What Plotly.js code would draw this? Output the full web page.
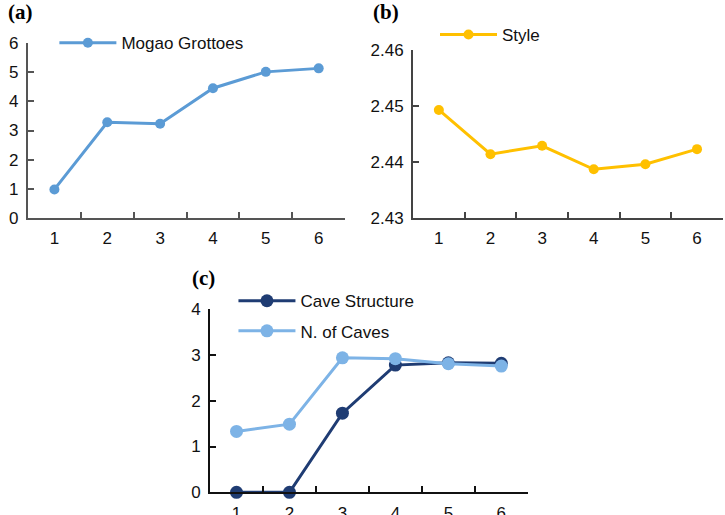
<!DOCTYPE html>
<html>
<head>
<meta charset="utf-8">
<script src="https://cdn.plot.ly/plotly-3.0.1.min.js"></script>
<style>html,body{margin:0;padding:0;background:#fff;}#chart{width:725px;height:515px;}</style>
</head>
<body>
<div id="chart"></div>
<script>
const categories = ['1', '2', '3', '4', '5', '6'];
const mogaoGrottoes = [0.98, 3.28, 3.23, 4.45, 5.01, 5.13];
const style = [2.4493, 2.4414, 2.4429, 2.4387, 2.4396, 2.4423];
const caveStructure = [0, 0, 1.73, 2.78, 2.83, 2.82];
const nOfCaves = [1.33, 1.49, 2.94, 2.92, 2.81, 2.76];
const ticksA = [0, 1, 2, 3, 4, 5, 6];
const ticksB = [2.43, 2.44, 2.45, 2.46];
const ticksC = [0, 1, 2, 3, 4];

const font = {family: 'Liberation Sans, Arial, sans-serif', size: 17, color: '#111'};

const traces = [
  {x: categories, y: mogaoGrottoes, name: 'Mogao Grottoes', xaxis: 'x', yaxis: 'y', legend: 'legend', cliponaxis: false,
   mode: 'lines+markers', line: {color: '#5b9bd5', width: 3}, marker: {color: '#5b9bd5', size: 10}},
  {x: categories, y: style, name: 'Style', xaxis: 'x2', yaxis: 'y2', legend: 'legend2', cliponaxis: false,
   mode: 'lines+markers', line: {color: '#ffc000', width: 3}, marker: {color: '#ffc000', size: 10}},
  {x: categories, y: caveStructure, name: 'Cave Structure', xaxis: 'x3', yaxis: 'y3', legend: 'legend3', legendgroup: 'cs', cliponaxis: false,
   mode: 'lines+markers', line: {color: '#1f3c73', width: 3}, marker: {color: '#1f3c73', size: 13}},
  {x: categories, y: nOfCaves, name: 'N. of Caves', xaxis: 'x3', yaxis: 'y3', legend: 'legend3', legendgroup: 'nc', cliponaxis: false,
   mode: 'lines+markers', line: {color: '#7db3e6', width: 3}, marker: {color: '#7db3e6', size: 13}}
];

function xax(domain, anchor, color) {
  return {domain: domain, anchor: anchor, type: 'category', range: [-0.5, 5.5], tickson: 'boundaries',
    ticks: 'inside', ticklen: 6, tickwidth: 2, tickcolor: color, showline: true, linecolor: color, linewidth: 2,
    showgrid: false, zeroline: false, tickfont: font, fixedrange: true, ticklabelstandoff: 4};
}
function yax(domain, anchor, range, vals, color) {
  return {domain: domain, anchor: anchor, range: range, tickvals: vals, ticks: 'inside', ticklen: 6, tickwidth: 2,
    tickcolor: color, showline: true, linecolor: color, linewidth: 2, showgrid: false, zeroline: false,
    tickfont: font, fixedrange: true, ticklabelstandoff: 4};
}

const legendBase = {bgcolor: 'rgba(0,0,0,0)', font: font, xanchor: 'left', yanchor: 'middle', itemwidth: 57,
  tracegroupgap: 5, itemclick: false};

const layout = {
  width: 725, height: 515, margin: {l: 0, r: 0, t: 0, b: 0},
  paper_bgcolor: '#fff', plot_bgcolor: 'rgba(0,0,0,0)', font: font, showlegend: true,
  xaxis: xax([0.0386, 0.476], 'y', '#555'),
  yaxis: yax([0.5767, 0.9165], 'x', [0, 6], ticksA, '#555'),
  xaxis2: xax([0.5697, 0.997], 'y2', '#444'),
  yaxis2: yax([0.5767, 0.9029], 'x2', [2.43, 2.46], ticksB, '#444'),
  xaxis3: xax([0.2897, 0.728], 'y3', '#111'),
  yaxis3: yax([0.0441, 0.3994], 'x3', [0, 4], ticksC, '#111'),
  legend: Object.assign({}, legendBase, {x: 0.075, y: 0.916}),
  legend2: Object.assign({}, legendBase, {x: 0.6, y: 0.932}),
  legend3: Object.assign({}, legendBase, {x: 0.322, y: 0.386}),
  annotations: [
    {text: '<b>(a)</b>', xref: 'paper', yref: 'paper', x: 0.008, y: 0.977, xanchor: 'left', yanchor: 'middle', showarrow: false,
     font: {family: 'Liberation Serif, Times New Roman, serif', size: 21, color: '#000'}},
    {text: '<b>(b)</b>', xref: 'paper', yref: 'paper', x: 0.512, y: 0.977, xanchor: 'left', yanchor: 'middle', showarrow: false,
     font: {family: 'Liberation Serif, Times New Roman, serif', size: 21, color: '#000'}},
    {text: '<b>(c)</b>', xref: 'paper', yref: 'paper', x: 0.262, y: 0.46, xanchor: 'left', yanchor: 'middle', showarrow: false,
     font: {family: 'Liberation Serif, Times New Roman, serif', size: 21, color: '#000'}}
  ]
};

Plotly.newPlot('chart', traces, layout, {displayModeBar: false, staticPlot: true});
</script>
</body>
</html>
